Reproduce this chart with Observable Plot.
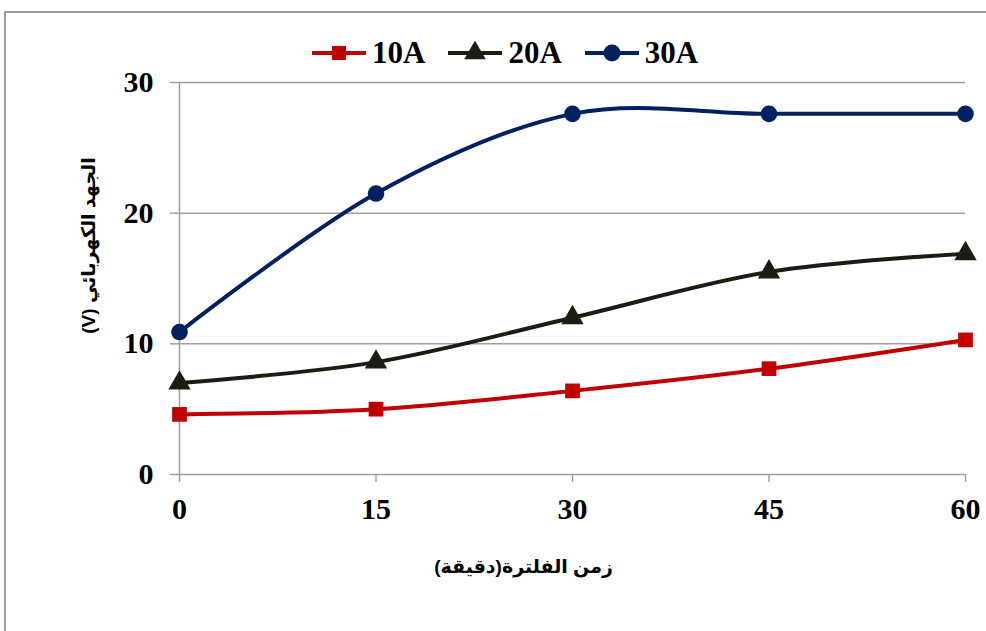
<!DOCTYPE html>
<html>
<head>
<meta charset="utf-8">
<script src="https://cdn.jsdelivr.net/npm/d3@7"></script>
<script src="https://cdn.jsdelivr.net/npm/@observablehq/plot@0.6"></script>
<style>
  html, body { margin: 0; padding: 0; background: #fff; overflow: hidden; }
  #wrap { position: relative; width: 986px; height: 631px; }
  #frame { position: absolute; left: 4px; top: 11px; width: 1000px; height: 700px;
           border-top: 2px solid #9c9c9c; border-left: 2px solid #9c9c9c; pointer-events: none; }
  #legend { height: 64px; display: flex; align-items: flex-start; justify-content: flex-start;
            padding-left: 310px; box-sizing: border-box; padding-top: 36px; line-height: 34px;
            font-family: "Liberation Serif", "Times New Roman", serif; font-weight: bold; font-size: 31px; }
  .item { display: flex; align-items: center; margin-right: 21px; height: 34px; }
  .item svg { display: block; margin-right: 4px; }
  #chart svg { overflow: visible; }
</style>
</head>
<body>
<div id="wrap">
  <div id="frame"></div>
  <div id="legend"></div>
  <div id="chart"></div>
</div>
<script>
// Filtration time (minutes) and measured voltage for each current setting
const minutes = [0, 15, 30, 45, 60];
const series = ["10A", "20A", "30A"];
const volts10A = [4.6, 5.0, 6.4, 8.1, 10.3];
const volts20A = [7.0, 8.6, 12.0, 15.5, 16.9];
const volts30A = [10.9, 21.5, 27.6, 27.6, 27.6];
const xTicks = [0, 15, 30, 45, 60];
const yTicks = [0, 10, 20, 30];
const colors = ["#C00000", "#1E1B12", "#002060"];
const symbols = ["square", "triangle", "circle"];
const xTitle = "زمن الفلترة(دقيقة)";
const yTitle = "الجهد الكهربائي (V)";

const valuesBySeries = [volts10A, volts20A, volts30A];
const rows = series.flatMap((s, i) =>
  minutes.map((m, j) => ({series: s, minute: m, volts: valuesBySeries[i][j]}))
);

// Legend: line swatch with marker, followed by the series name
const legend = d3.select("#legend");
series.forEach((s, i) => {
  const item = legend.append("div").attr("class", "item");
  const sw = item.append("svg").attr("width", 58).attr("height", 24);
  sw.append("line").attr("x1", 2).attr("x2", 56).attr("y1", 12).attr("y2", 12)
    .attr("stroke", colors[i]).attr("stroke-width", 4);
  const sym = {square: d3.symbolSquare, triangle: d3.symbolTriangle, circle: d3.symbolCircle}[symbols[i]];
  const size = symbols[i] === "circle" ? Math.PI * 8.5 * 8.5 : symbols[i] === "square" ? 196 : 200;
  sw.append("path").attr("d", d3.symbol(sym, size)()).attr("transform", "translate(29,12)")
    .attr("fill", colors[i]);
  item.append("span").text(s);
});

const chart = Plot.plot({
  width: 986,
  height: 567,
  marginLeft: 179,
  marginRight: 21,
  marginTop: 18,
  marginBottom: 157,
  style: {fontFamily: "'Liberation Serif', 'Times New Roman', serif", fontSize: "30px", fontWeight: "bold", color: "#000", background: "transparent", overflow: "visible"},
  x: {domain: [0, 60], ticks: xTicks, label: null},
  y: {domain: [0, 30], ticks: yTicks, label: null},
  color: {domain: series, range: colors},
  symbol: {domain: series, range: symbols},
  marks: [
    Plot.gridY(yTicks, {stroke: "#a0a0a0", strokeOpacity: 1, strokeWidth: 1.5}),
    Plot.ruleX([0], {stroke: "#a0a0a0", strokeWidth: 1.5}),
    Plot.axisY({ticks: yTicks, tickSize: 9, tickPadding: 17, stroke: "#a0a0a0", strokeWidth: 1.5, fill: "#000", label: null, tickFormat: d => String(d)}),
    Plot.axisX({ticks: xTicks, tickSize: 8, tickPadding: 15, stroke: "#a0a0a0", strokeWidth: 1.5, fill: "#000", label: null, tickFormat: d => String(d)}),
    Plot.line(rows, {x: "minute", y: "volts", z: "series", stroke: "series", strokeWidth: 4, curve: "cardinal"}),
    Plot.dot(rows, {x: "minute", y: "volts", fill: "series", symbol: "series", r: 8.3, stroke: "none"}),
    Plot.text([xTitle], {frameAnchor: "bottom", textAnchor: "middle", text: d => d, dx: -49, dy: 98,
      fontFamily: "Arial, 'DejaVu Sans', sans-serif", fontSize: 19, fontWeight: "bold", fill: "#000"}),
    Plot.text([yTitle], {frameAnchor: "left", textAnchor: "middle", text: d => d, dx: -91, dy: -33, rotate: -90,
      fontFamily: "Arial, 'DejaVu Sans', sans-serif", fontSize: 19, fontWeight: "bold", fill: "#000"})
  ]
});

// Arabic titles read right to left
d3.select(chart).selectAll("text")
  .filter(function() { return /[\u0600-\u06FF]/.test(this.textContent); })
  .attr("direction", "rtl");

document.getElementById("chart").appendChild(chart);
</script>
</body>
</html>
